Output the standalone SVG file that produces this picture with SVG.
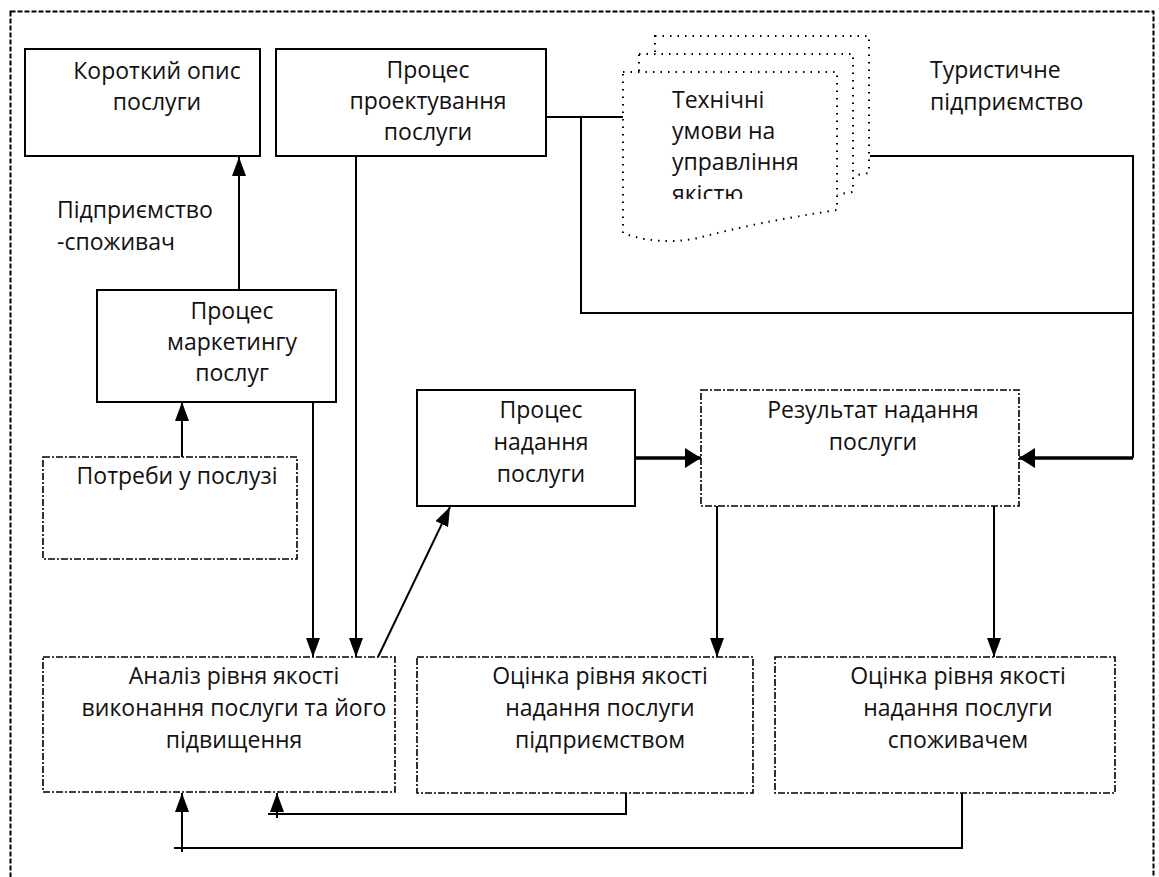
<svg xmlns="http://www.w3.org/2000/svg" width="1159" height="877" viewBox="0 0 1159 877">
<style>
text{font-family:"Open Sans","Noto Sans","Liberation Sans",sans-serif;font-size:23px;fill:#111}
.c{text-anchor:middle}
.solid{fill:#fff;stroke:#000;stroke-width:2}
.dd{fill:#fff;stroke:#000;stroke-width:1.6;stroke-dasharray:7 2 2 2}
.doc{fill:#fff;stroke:#000;stroke-width:2;stroke-dasharray:1.5 6}
.ln{fill:none;stroke:#000;stroke-width:2}
.thick{fill:none;stroke:#000;stroke-width:3.5}
</style>
<defs>
<marker id="ah" viewBox="0 0 19 14" refX="19" refY="7" markerWidth="19" markerHeight="14" markerUnits="userSpaceOnUse" orient="auto">
<path d="M0,0 L19,7 L0,14 Z" fill="#000"/>
</marker>
<marker id="ahT" viewBox="0 0 16 20" refX="16" refY="10" markerWidth="16" markerHeight="20" markerUnits="userSpaceOnUse" orient="auto">
<path d="M0,0 L16,10 L0,20 Z" fill="#000"/>
</marker>
<clipPath id="docclip"><rect x="620" y="60" width="220" height="139"/></clipPath>
</defs>
<rect x="10.5" y="11.5" width="1143" height="900" fill="none" stroke="#000" stroke-width="2" stroke-dasharray="5 2"/>

<g id="connectors">
<path class="ln" d="M546,117 H623 M581,117 V313 H1133 M870,156 H1133 V458"/>
<path class="thick" d="M1133,458 H1019" marker-end="url(#ahT)"/>
<path class="thick" d="M635,458 H701" marker-end="url(#ahT)"/>
<path class="ln" d="M239,290 V157" marker-end="url(#ah)"/>
<path class="ln" d="M182,457 V402" marker-end="url(#ah)"/>
<path class="ln" d="M313,402 V657" marker-end="url(#ah)"/>
<path class="ln" d="M356,157 V657" marker-end="url(#ah)"/>
<path class="ln" d="M378,657 L450,507" marker-end="url(#ah)"/>
<path class="ln" d="M717,506 V657" marker-end="url(#ah)"/>
<path class="ln" d="M994,506 V657" marker-end="url(#ah)"/>
<path class="ln" d="M626,793 V814 H268"/>
<path class="ln" d="M277,818 V793" marker-end="url(#ah)"/>
<path class="ln" d="M962,793 V848 H174"/>
<path class="ln" d="M182,852 V793" marker-end="url(#ah)"/>
</g>

<g id="short-desc">
<rect class="solid" x="25" y="49" width="235" height="107"/>
<text class="c" x="157" y="79">Короткий опис</text>
<text class="c" x="157" y="110">послуги</text>
</g>

<g id="design">
<rect class="solid" x="276" y="49" width="270" height="107"/>
<text class="c" x="428" y="78">Процес</text>
<text class="c" x="428" y="109">проектування</text>
<text class="c" x="428" y="140">послуги</text>
</g>

<g id="tech-docs">
<path class="doc" d="M655,36 H869 V173 Q790,185 730,200 Q690,208 655,196 Z"/>
<path class="doc" d="M639,54 H853 V192 Q774,204 714,218 Q674,226 639,214 Z"/>
<path class="doc" d="M623,72 H837 V210 Q758,222 698,238 Q658,246 623,233 Z"/>
<g clip-path="url(#docclip)">
<text x="672" y="108">Технічні</text>
<text x="672" y="139">умови на</text>
<text x="672" y="170">управління</text>
<text x="672" y="202">якістю</text>
</g>
</g>

<g id="tourist">
<text x="930" y="78">Туристичне</text>
<text x="930" y="110">підприємство</text>
</g>

<g id="consumer">
<text x="57" y="218">Підприємство</text>
<text x="57" y="250">-споживач</text>
</g>

<g id="marketing">
<rect class="solid" x="97" y="290" width="239" height="112"/>
<text class="c" x="232" y="319">Процес</text>
<text class="c" x="232" y="350">маркетингу</text>
<text class="c" x="232" y="381">послуг</text>
</g>

<g id="needs">
<rect class="dd" x="43" y="457" width="254" height="102"/>
<text class="c" x="177" y="484">Потреби у послузі</text>
</g>

<g id="provision">
<rect class="solid" x="417" y="390" width="218" height="116"/>
<text class="c" x="541" y="418">Процес</text>
<text class="c" x="541" y="450">надання</text>
<text class="c" x="541" y="482">послуги</text>
</g>

<g id="result">
<rect class="dd" x="701" y="390" width="318" height="116"/>
<text class="c" x="873" y="418">Результат надання</text>
<text class="c" x="873" y="450">послуги</text>
</g>

<g id="analysis">
<rect class="dd" x="43" y="657" width="352" height="135"/>
<text class="c" x="234" y="684">Аналіз рівня якості</text>
<text class="c" x="234" y="716">виконання послуги та його</text>
<text class="c" x="234" y="748">підвищення</text>
</g>

<g id="eval-enterprise">
<rect class="dd" x="417" y="657" width="336" height="136"/>
<text class="c" x="600" y="684">Оцінка рівня якості</text>
<text class="c" x="600" y="716">надання послуги</text>
<text class="c" x="600" y="748">підприємством</text>
</g>

<g id="eval-consumer">
<rect class="dd" x="775" y="657" width="340" height="136"/>
<text class="c" x="958" y="684">Оцінка рівня якості</text>
<text class="c" x="958" y="716">надання послуги</text>
<text class="c" x="958" y="748">споживачем</text>
</g>
</svg>
